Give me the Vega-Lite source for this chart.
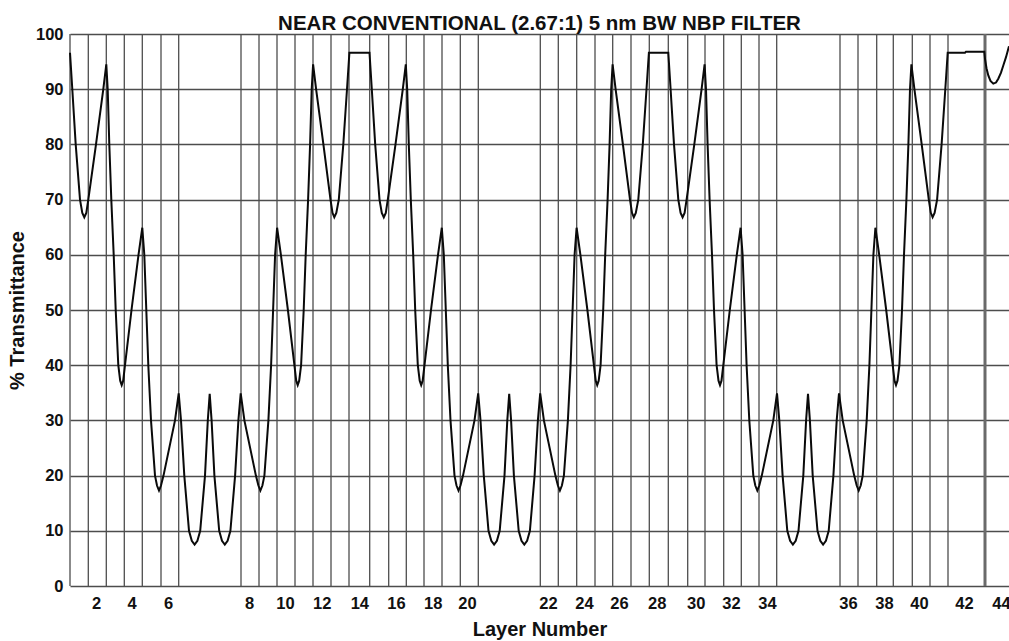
{
  "$schema": "https://vega.github.io/schema/vega-lite/v6.json",
  "width": 939,
  "height": 552,
  "autosize": {"type": "none"},
  "padding": {"left": 70, "top": 34, "right": 0, "bottom": 55},
  "background": "white",
  "title": {
    "text": "NEAR CONVENTIONAL (2.67:1) 5 nm BW NBP FILTER",
    "font": "Liberation Sans",
    "fontSize": 20.5,
    "fontWeight": "bold",
    "color": "#111111",
    "frame": "group",
    "anchor": "middle",
    "baseline": "alphabetic",
    "offset": -24
  },
  "config": {
    "view": {"stroke": null},
    "axis": {
      "labelFont": "Liberation Sans",
      "titleFont": "Liberation Sans",
      "labelFontWeight": "bold",
      "titleFontWeight": "bold",
      "labelColor": "#111111",
      "titleColor": "#111111",
      "labelFontSize": 16.5,
      "titleFontSize": 20,
      "ticks": false,
      "tickSize": 0,
      "domain": false
    }
  },
  "datasets": {
    "bounds": [
      {"pos": 0}, {"pos": 18.3}, {"pos": 36.3}, {"pos": 54.3}, {"pos": 72.3}, {"pos": 91}, {"pos": 108.7},
      {"pos": 171}, {"pos": 189}, {"pos": 207}, {"pos": 225}, {"pos": 243}, {"pos": 261}, {"pos": 279},
      {"pos": 299.7}, {"pos": 318.7}, {"pos": 336.3}, {"pos": 354}, {"pos": 372}, {"pos": 390.3}, {"pos": 408.3},
      {"pos": 470.3}, {"pos": 488.3}, {"pos": 506.7}, {"pos": 525}, {"pos": 542.7}, {"pos": 561}, {"pos": 579.3},
      {"pos": 598.3}, {"pos": 617.7}, {"pos": 635}, {"pos": 653.7}, {"pos": 671.3}, {"pos": 689}, {"pos": 706.7},
      {"pos": 770}, {"pos": 788}, {"pos": 806.7}, {"pos": 823.3}, {"pos": 842.3}, {"pos": 860}, {"pos": 878}
    ],
    "endline": [{"pos": 915}],
    "curve": [
      {"pos": 0, "trans": 96.6}, {"pos": 2.3, "trans": 90}, {"pos": 5.7, "trans": 80}, {"pos": 10, "trans": 70},
      {"pos": 12.3, "trans": 67.6}, {"pos": 14.3, "trans": 66.8}, {"pos": 16.3, "trans": 67.6}, {"pos": 18.3, "trans": 70},
      {"pos": 26, "trans": 80}, {"pos": 33.3, "trans": 90}, {"pos": 36.3, "trans": 94.5}, {"pos": 37.7, "trans": 90},
      {"pos": 39.3, "trans": 80}, {"pos": 41.3, "trans": 70}, {"pos": 43.7, "trans": 60}, {"pos": 45.7, "trans": 50},
      {"pos": 48.3, "trans": 40}, {"pos": 50.2, "trans": 37.2}, {"pos": 51.7, "trans": 36.4}, {"pos": 53.2, "trans": 37.2},
      {"pos": 55, "trans": 40}, {"pos": 61.5, "trans": 50}, {"pos": 68.5, "trans": 60}, {"pos": 72.3, "trans": 64.9},
      {"pos": 74.3, "trans": 60}, {"pos": 76.3, "trans": 50}, {"pos": 78.3, "trans": 40}, {"pos": 81, "trans": 30},
      {"pos": 85, "trans": 20}, {"pos": 87, "trans": 18.2}, {"pos": 89, "trans": 17.3}, {"pos": 91, "trans": 18.2},
      {"pos": 93.5, "trans": 20}, {"pos": 105, "trans": 30}, {"pos": 108.7, "trans": 34.9}, {"pos": 111, "trans": 30},
      {"pos": 114.3, "trans": 20}, {"pos": 119, "trans": 10}, {"pos": 121.8, "trans": 8.2}, {"pos": 124.6, "trans": 7.5},
      {"pos": 127.4, "trans": 8.2}, {"pos": 130.2, "trans": 10}, {"pos": 135, "trans": 20}, {"pos": 137.8, "trans": 30},
      {"pos": 139.7, "trans": 34.8}, {"pos": 141.6, "trans": 30}, {"pos": 144.4, "trans": 20}, {"pos": 149.2, "trans": 10},
      {"pos": 152, "trans": 8.2}, {"pos": 154.8, "trans": 7.5}, {"pos": 157.6, "trans": 8.2}, {"pos": 160.4, "trans": 10},
      {"pos": 165.1, "trans": 20}, {"pos": 168.4, "trans": 30}, {"pos": 170.7, "trans": 34.9}, {"pos": 174.4, "trans": 30},
      {"pos": 185.9, "trans": 20}, {"pos": 188.4, "trans": 18.2}, {"pos": 190.4, "trans": 17.3}, {"pos": 192.4, "trans": 18.2},
      {"pos": 194.4, "trans": 20}, {"pos": 198.4, "trans": 30}, {"pos": 201.1, "trans": 40}, {"pos": 203.1, "trans": 50},
      {"pos": 205.1, "trans": 60}, {"pos": 207.1, "trans": 64.9}, {"pos": 210.9, "trans": 60}, {"pos": 217.9, "trans": 50},
      {"pos": 224.4, "trans": 40}, {"pos": 226.2, "trans": 37.2}, {"pos": 227.7, "trans": 36.4}, {"pos": 229.2, "trans": 37.2},
      {"pos": 231.1, "trans": 40}, {"pos": 233.7, "trans": 50}, {"pos": 235.7, "trans": 60}, {"pos": 238.1, "trans": 70},
      {"pos": 240.1, "trans": 80}, {"pos": 241.7, "trans": 90}, {"pos": 243.1, "trans": 94.5}, {"pos": 246.1, "trans": 90},
      {"pos": 253.4, "trans": 80}, {"pos": 260.5, "trans": 70}, {"pos": 262.5, "trans": 67.6}, {"pos": 264.3, "trans": 66.8},
      {"pos": 266.3, "trans": 67.6}, {"pos": 268.8, "trans": 70}, {"pos": 273.3, "trans": 80}, {"pos": 277, "trans": 90},
      {"pos": 279.4, "trans": 96.6},
      {"pos": 299.5, "trans": 96.6}, {"pos": 301.8, "trans": 90}, {"pos": 305.2, "trans": 80}, {"pos": 309.5, "trans": 70},
      {"pos": 311.8, "trans": 67.6}, {"pos": 313.8, "trans": 66.8}, {"pos": 315.8, "trans": 67.6}, {"pos": 317.8, "trans": 70},
      {"pos": 325.5, "trans": 80}, {"pos": 332.8, "trans": 90}, {"pos": 335.8, "trans": 94.5}, {"pos": 337.2, "trans": 90},
      {"pos": 338.8, "trans": 80}, {"pos": 340.8, "trans": 70}, {"pos": 343.2, "trans": 60}, {"pos": 345.2, "trans": 50},
      {"pos": 347.8, "trans": 40}, {"pos": 349.7, "trans": 37.2}, {"pos": 351.2, "trans": 36.4}, {"pos": 352.7, "trans": 37.2},
      {"pos": 354.5, "trans": 40}, {"pos": 361, "trans": 50}, {"pos": 368, "trans": 60}, {"pos": 371.8, "trans": 64.9},
      {"pos": 373.8, "trans": 60}, {"pos": 375.8, "trans": 50}, {"pos": 377.8, "trans": 40}, {"pos": 380.5, "trans": 30},
      {"pos": 384.5, "trans": 20}, {"pos": 386.5, "trans": 18.2}, {"pos": 388.5, "trans": 17.3}, {"pos": 390.5, "trans": 18.2},
      {"pos": 393, "trans": 20}, {"pos": 404.5, "trans": 30}, {"pos": 408.2, "trans": 34.9}, {"pos": 410.5, "trans": 30},
      {"pos": 413.8, "trans": 20}, {"pos": 418.5, "trans": 10}, {"pos": 421.3, "trans": 8.2}, {"pos": 424.1, "trans": 7.5},
      {"pos": 426.9, "trans": 8.2}, {"pos": 429.7, "trans": 10}, {"pos": 434.5, "trans": 20}, {"pos": 437.3, "trans": 30},
      {"pos": 439.2, "trans": 34.8}, {"pos": 441.1, "trans": 30}, {"pos": 443.9, "trans": 20}, {"pos": 448.7, "trans": 10},
      {"pos": 451.5, "trans": 8.2}, {"pos": 454.3, "trans": 7.5}, {"pos": 457.1, "trans": 8.2}, {"pos": 459.9, "trans": 10},
      {"pos": 464.6, "trans": 20}, {"pos": 467.9, "trans": 30}, {"pos": 470.2, "trans": 34.9}, {"pos": 473.9, "trans": 30},
      {"pos": 485.4, "trans": 20}, {"pos": 487.9, "trans": 18.2}, {"pos": 489.9, "trans": 17.3}, {"pos": 491.9, "trans": 18.2},
      {"pos": 493.9, "trans": 20}, {"pos": 497.9, "trans": 30}, {"pos": 500.6, "trans": 40}, {"pos": 502.6, "trans": 50},
      {"pos": 504.6, "trans": 60}, {"pos": 506.6, "trans": 64.9}, {"pos": 510.4, "trans": 60}, {"pos": 517.4, "trans": 50},
      {"pos": 523.9, "trans": 40}, {"pos": 525.7, "trans": 37.2}, {"pos": 527.2, "trans": 36.4}, {"pos": 528.7, "trans": 37.2},
      {"pos": 530.6, "trans": 40}, {"pos": 533.2, "trans": 50}, {"pos": 535.2, "trans": 60}, {"pos": 537.6, "trans": 70},
      {"pos": 539.6, "trans": 80}, {"pos": 541.2, "trans": 90}, {"pos": 542.6, "trans": 94.5}, {"pos": 545.6, "trans": 90},
      {"pos": 552.9, "trans": 80}, {"pos": 560, "trans": 70}, {"pos": 562, "trans": 67.6}, {"pos": 563.8, "trans": 66.8},
      {"pos": 565.8, "trans": 67.6}, {"pos": 568.3, "trans": 70}, {"pos": 572.8, "trans": 80}, {"pos": 576.5, "trans": 90},
      {"pos": 578.9, "trans": 96.6},
      {"pos": 598.3, "trans": 96.6}, {"pos": 600.6, "trans": 90}, {"pos": 604, "trans": 80}, {"pos": 608.3, "trans": 70},
      {"pos": 610.6, "trans": 67.6}, {"pos": 612.6, "trans": 66.8}, {"pos": 614.6, "trans": 67.6}, {"pos": 616.6, "trans": 70},
      {"pos": 624.3, "trans": 80}, {"pos": 631.6, "trans": 90}, {"pos": 634.6, "trans": 94.5}, {"pos": 636, "trans": 90},
      {"pos": 637.6, "trans": 80}, {"pos": 639.6, "trans": 70}, {"pos": 642, "trans": 60}, {"pos": 644, "trans": 50},
      {"pos": 646.6, "trans": 40}, {"pos": 648.5, "trans": 37.2}, {"pos": 650, "trans": 36.4}, {"pos": 651.5, "trans": 37.2},
      {"pos": 653.3, "trans": 40}, {"pos": 659.8, "trans": 50}, {"pos": 666.8, "trans": 60}, {"pos": 670.6, "trans": 64.9},
      {"pos": 672.6, "trans": 60}, {"pos": 674.6, "trans": 50}, {"pos": 676.6, "trans": 40}, {"pos": 679.3, "trans": 30},
      {"pos": 683.3, "trans": 20}, {"pos": 685.3, "trans": 18.2}, {"pos": 687.3, "trans": 17.3}, {"pos": 689.3, "trans": 18.2},
      {"pos": 691.8, "trans": 20}, {"pos": 703.3, "trans": 30}, {"pos": 707, "trans": 34.9}, {"pos": 709.3, "trans": 30},
      {"pos": 712.6, "trans": 20}, {"pos": 717.3, "trans": 10}, {"pos": 720.1, "trans": 8.2}, {"pos": 722.9, "trans": 7.5},
      {"pos": 725.7, "trans": 8.2}, {"pos": 728.5, "trans": 10}, {"pos": 733.3, "trans": 20}, {"pos": 736.1, "trans": 30},
      {"pos": 738, "trans": 34.8}, {"pos": 739.9, "trans": 30}, {"pos": 742.7, "trans": 20}, {"pos": 747.5, "trans": 10},
      {"pos": 750.3, "trans": 8.2}, {"pos": 753.1, "trans": 7.5}, {"pos": 755.9, "trans": 8.2}, {"pos": 758.7, "trans": 10},
      {"pos": 763.4, "trans": 20}, {"pos": 766.7, "trans": 30}, {"pos": 769, "trans": 34.9}, {"pos": 772.7, "trans": 30},
      {"pos": 784.2, "trans": 20}, {"pos": 786.7, "trans": 18.2}, {"pos": 788.7, "trans": 17.3}, {"pos": 790.7, "trans": 18.2},
      {"pos": 792.7, "trans": 20}, {"pos": 796.7, "trans": 30}, {"pos": 799.4, "trans": 40}, {"pos": 801.4, "trans": 50},
      {"pos": 803.4, "trans": 60}, {"pos": 805.4, "trans": 64.9}, {"pos": 809.2, "trans": 60}, {"pos": 816.2, "trans": 50},
      {"pos": 822.7, "trans": 40}, {"pos": 824.5, "trans": 37.2}, {"pos": 826, "trans": 36.4}, {"pos": 827.5, "trans": 37.2},
      {"pos": 829.4, "trans": 40}, {"pos": 832, "trans": 50}, {"pos": 834, "trans": 60}, {"pos": 836.4, "trans": 70},
      {"pos": 838.4, "trans": 80}, {"pos": 840, "trans": 90}, {"pos": 841.4, "trans": 94.5}, {"pos": 844.4, "trans": 90},
      {"pos": 851.7, "trans": 80}, {"pos": 858.8, "trans": 70}, {"pos": 860.8, "trans": 67.6}, {"pos": 862.6, "trans": 66.8},
      {"pos": 864.6, "trans": 67.6}, {"pos": 867.1, "trans": 70}, {"pos": 871.6, "trans": 80}, {"pos": 875.3, "trans": 90},
      {"pos": 877.7, "trans": 96.6},
      {"pos": 895, "trans": 96.6}, {"pos": 896, "trans": 96.8}, {"pos": 914.3, "trans": 96.8}, {"pos": 915, "trans": 95.5},
      {"pos": 916.5, "trans": 93.8}, {"pos": 918.3, "trans": 92.5}, {"pos": 920.5, "trans": 91.5}, {"pos": 923.3, "trans": 91.0},
      {"pos": 926, "trans": 91.2}, {"pos": 928.3, "trans": 91.9}, {"pos": 931, "trans": 93}, {"pos": 933.3, "trans": 94.3},
      {"pos": 936, "trans": 95.8}, {"pos": 939, "trans": 97.8}
    ]
  },
  "layer": [
    {
      "data": {"name": "bounds"},
      "mark": {"type": "rule", "color": "#4d4d4d", "strokeWidth": 1.3},
      "encoding": {
        "x": {
          "field": "pos",
          "type": "quantitative",
          "scale": {"domain": [0, 939], "nice": false, "zero": false},
          "axis": {
            "title": "Layer Number",
            "grid": false,
            "values": [26, 61.7, 98, 179, 215, 251.7, 289.3, 326, 362.7, 397, 478, 514, 549, 586.7, 625.7, 661, 697, 778, 814, 849, 894, 931],
            "labelExpr": "(indexof([26, 61.7, 98, 179, 215, 251.7, 289.3, 326, 362.7, 397, 478, 514, 549, 586.7, 625.7, 661, 697, 778, 814, 849, 894, 931], datum.value) + 1) * 2",
            "labelFlush": false,
            "labelOverlap": false,
            "labelBound": false,
            "labelPadding": 9,
            "titlePadding": 8
          }
        }
      }
    },
    {
      "data": {"name": "endline"},
      "mark": {"type": "rule", "color": "#6a6a6a", "strokeWidth": 3},
      "encoding": {"x": {"field": "pos", "type": "quantitative"}}
    },
    {
      "data": {"name": "curve"},
      "mark": {"type": "line", "color": "#0a0a0a", "strokeWidth": 2},
      "encoding": {
        "x": {"field": "pos", "type": "quantitative"},
        "y": {
          "field": "trans",
          "type": "quantitative",
          "scale": {"domain": [0, 100], "nice": false},
          "axis": {
            "title": "% Transmittance",
            "values": [0, 10, 20, 30, 40, 50, 60, 70, 80, 90, 100],
            "grid": true,
            "gridColor": "#4d4d4d",
            "gridWidth": 1.3,
            "gridOpacity": 1,
            "labelPadding": 7,
            "titlePadding": 8
          }
        }
      }
    }
  ]
}
